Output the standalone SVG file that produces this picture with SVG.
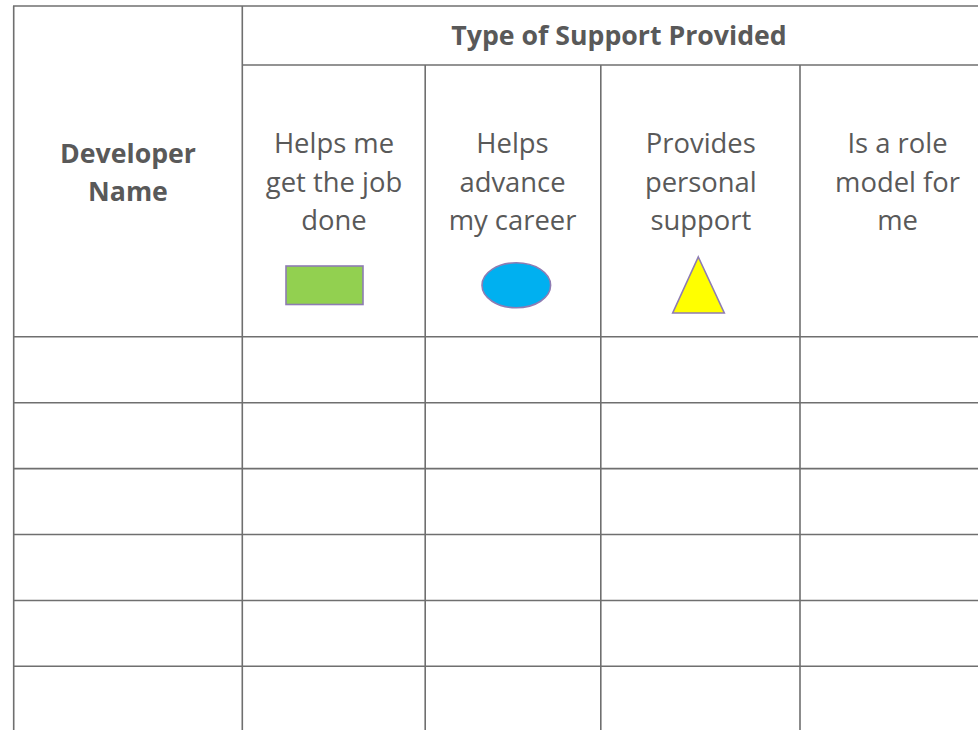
<svg xmlns="http://www.w3.org/2000/svg" width="978" height="730" viewBox="0 0 978 730">
<style>
.ln{stroke:#6f6f6f;stroke-width:1.6;fill:none}
.t{font-family:"Open Sans","Noto Sans",sans-serif;font-size:27.4px;fill:#595959;text-anchor:middle}
.b{font-family:"Open Sans","Noto Sans",sans-serif;font-size:26.7px;font-weight:bold;fill:#595959;text-anchor:middle}
.shp{stroke:#8e7cb3;stroke-width:1.6}
</style>
<rect width="978" height="730" fill="#ffffff"/>
<g id="grid">
<line class="ln" x1="13" y1="6" x2="978" y2="6"/>
<line class="ln" x1="13.7" y1="6" x2="13.7" y2="730"/>
<line class="ln" x1="242.3" y1="6" x2="242.3" y2="730"/>
<line class="ln" x1="242" y1="65" x2="978" y2="65"/>
<line class="ln" x1="425.2" y1="65" x2="425.2" y2="730"/>
<line class="ln" x1="600.8" y1="65" x2="600.8" y2="730"/>
<line class="ln" x1="800" y1="65" x2="800" y2="730"/>
<line class="ln" x1="13" y1="336.8" x2="978" y2="336.8"/>
<line class="ln" x1="13" y1="402.7" x2="978" y2="402.7"/>
<line class="ln" x1="13" y1="468.6" x2="978" y2="468.6"/>
<line class="ln" x1="13" y1="534.5" x2="978" y2="534.5"/>
<line class="ln" x1="13" y1="600.5" x2="978" y2="600.5"/>
<line class="ln" x1="13" y1="666.3" x2="978" y2="666.3"/>
</g>
<g id="header-type">
<text class="b" x="619" y="45">Type of Support Provided</text>
</g>
<g id="header-developer">
<text class="b" x="128" y="163">Developer</text>
<text class="b" x="128" y="201">Name</text>
</g>
<g id="col-job">
<text class="t" x="334" y="153">Helps me</text>
<text class="t" x="334" y="192">get the job</text>
<text class="t" x="334" y="230">done</text>
<rect class="shp" x="286" y="266" width="77" height="38.5" fill="#92d050"/>
</g>
<g id="col-career">
<text class="t" x="512.5" y="153">Helps</text>
<text class="t" x="512.5" y="192">advance</text>
<text class="t" x="512.5" y="230">my career</text>
<ellipse class="shp" cx="516.3" cy="285.3" rx="34.3" ry="22.5" fill="#00b0f0"/>
</g>
<g id="col-personal">
<text class="t" x="700.8" y="153">Provides</text>
<text class="t" x="700.8" y="192">personal</text>
<text class="t" x="700.8" y="230">support</text>
<polygon class="shp" points="698.3,257 724.3,313 672.7,313" fill="#ffff00"/>
</g>
<g id="col-role">
<text class="t" x="897.5" y="153">Is a role</text>
<text class="t" x="897.5" y="192">model for</text>
<text class="t" x="897.5" y="230">me</text>
</g>
</svg>
